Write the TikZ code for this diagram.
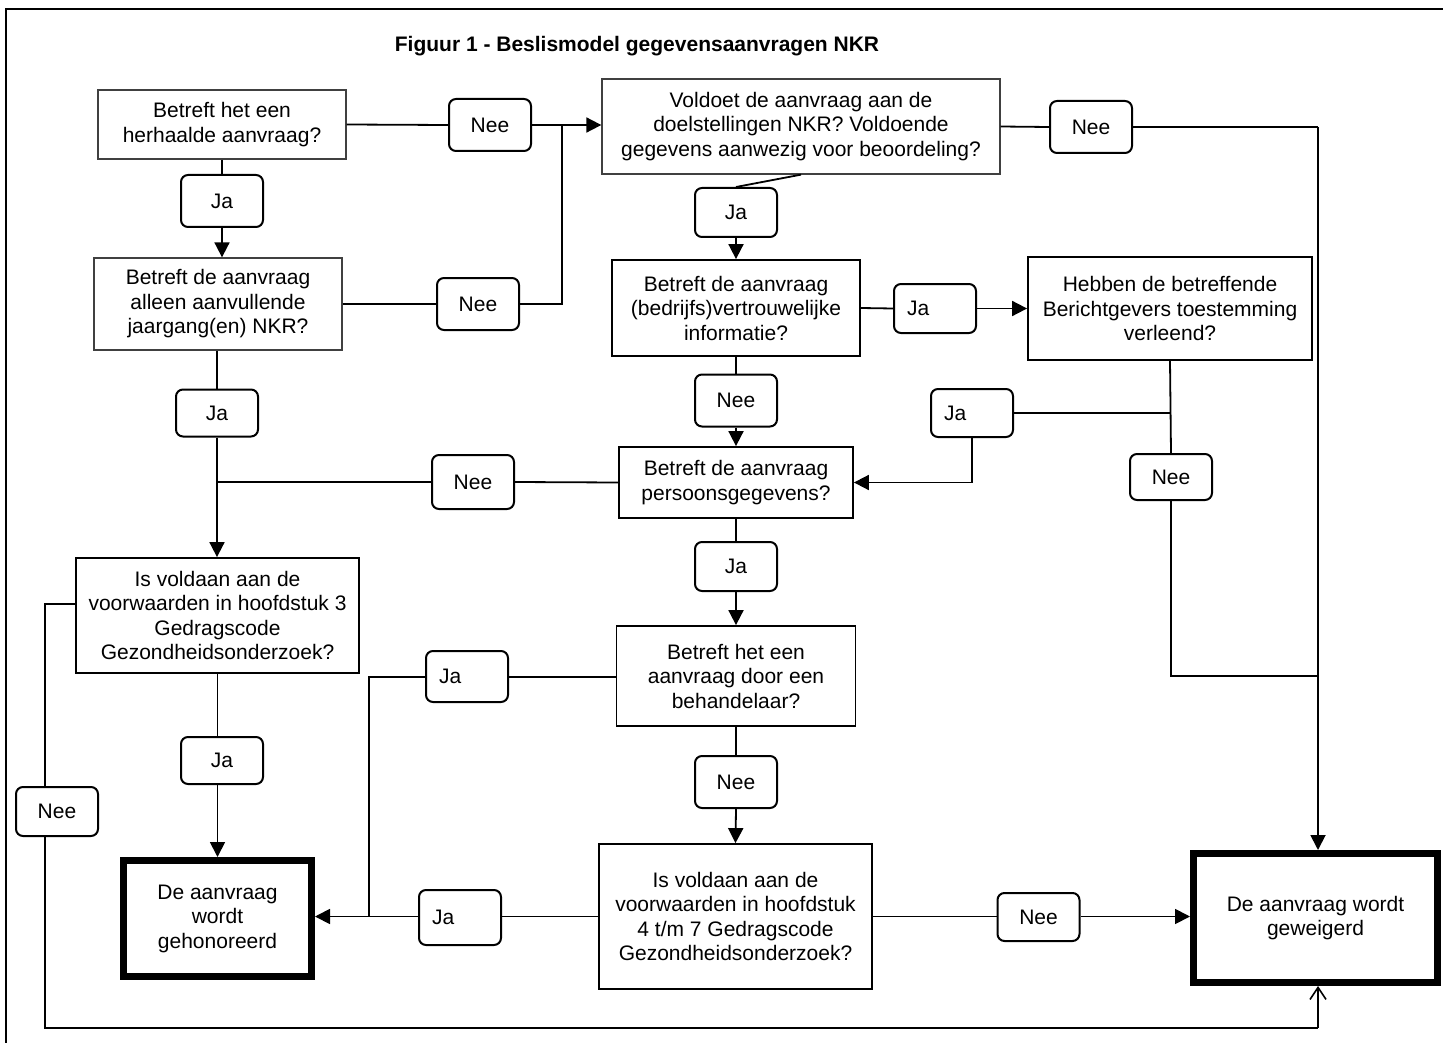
\documentclass[tikz,border=0pt]{standalone}
\usepackage{fontspec}
\setmainfont{Liberation Sans}
\usetikzlibrary{arrows.meta}
\begin{document}
\begin{tikzpicture}[x=1pt,y=-1pt,
  every node/.style={font=\fontsize{21}{24.5}\selectfont},
  qbox/.style={draw, line width=1.8pt, align=center, inner sep=0pt},
  qboxl/.style={draw=black!75, line width=1.3pt, align=center, inner sep=0pt},
  endbox/.style={draw, line width=7pt, align=center, inner sep=0pt},
  lbl/.style={draw, line width=2pt, rounded corners=7pt, minimum width=82pt, minimum height=52pt, inner sep=0pt},
  lblL/.style={lbl, text width=56pt, inner xsep=13pt, align=left},
  conn/.style={line width=1.8pt},
  arr/.style={conn, -{Triangle[length=15pt,width=15pt]}},
  oarr/.style={conn, -{Straight Barb[length=12pt,width=16pt,line width=1.6pt]}}
]
\useasboundingbox (0,0) rectangle (1443,1043);
\draw[line width=2.5pt] (6,1050) -- (6,9) -- (1450,9);

\node[font=\fontsize{21}{24.5}\selectfont\bfseries] (title) at (637,46) {Figuur 1 - Beslismodel gegevensaanvragen NKR};

% main boxes
\node[qboxl, minimum width=248pt, minimum height=69pt] (b1) at (222,124.5) {Betreft het een\\herhaalde aanvraag?};
\node[qboxl, minimum width=248pt, minimum height=92pt] (b2) at (218,304) {Betreft de aanvraag\\alleen aanvullende\\jaargang(en) NKR?};
\node[qboxl, minimum width=398pt, minimum height=95pt] (b3) at (801,126.5) {Voldoet de aanvraag aan de\\doelstellingen NKR? Voldoende\\gegevens aanwezig voor beoordeling?};
\node[qbox, minimum width=248pt, minimum height=96pt] (b4) at (736,308) {Betreft de aanvraag\\(bedrijfs)vertrouwelijke\\informatie?};
\node[qbox, minimum width=284pt, minimum height=103pt] (b5) at (1170,308.5) {Hebben de betreffende\\Berichtgevers toestemming\\verleend?};
\node[qbox, minimum width=234pt, minimum height=71pt] (b6) at (736,482.5) {Betreft de aanvraag\\persoonsgegevens?};
\node[qbox, minimum width=283pt, minimum height=115pt] (b7) at (217.5,615.5) {Is voldaan aan de\\voorwaarden in hoofdstuk 3\\Gedragscode\\Gezondheidsonderzoek?};
\node[qbox, minimum width=239pt, minimum height=100pt] (b8) at (736,676) {Betreft het een\\aanvraag door een\\behandelaar?};
\node[qbox, minimum width=273pt, minimum height=145pt] (b9) at (735.5,916.5) {Is voldaan aan de\\voorwaarden in hoofdstuk\\4 t/m 7 Gedragscode\\Gezondheidsonderzoek?};
\node[endbox, minimum width=188pt, minimum height=116pt] (b10) at (217.5,918.5) {De aanvraag\\wordt\\gehonoreerd};
\node[endbox, minimum width=244pt, minimum height=129pt] (b11) at (1315.5,918) {De aanvraag wordt\\geweigerd};

% labels
\node[lbl] (nee1) at (490,125) {Nee};
\node[lbl] (ja1) at (222,201) {Ja};
\node[lbl] (nee2) at (478,304) {Nee};
\node[lbl] (nee3) at (1091,127) {Nee};
\node[lbl, minimum height=49pt] (ja2) at (736,212.5) {Ja};
\node[lblL, minimum height=49pt] (ja3) at (935,308.5) {Ja};
\node[lbl] (nee4) at (736,400.5) {Nee};
\node[lblL, minimum height=48pt] (ja4) at (972,413) {Ja};
\node[lbl, minimum height=46pt] (nee5) at (1171,477) {Nee};
\node[lbl, minimum height=47pt] (ja5) at (217,413) {Ja};
\node[lbl, minimum height=54pt] (nee6) at (473,482) {Nee};
\node[lbl, minimum height=49pt] (ja6) at (736,566.5) {Ja};
\node[lblL, minimum height=51pt] (ja7) at (467,676.5) {Ja};
\node[lbl, minimum height=47pt] (ja8) at (222,760.5) {Ja};
\node[lbl, minimum height=49pt] (nee7) at (57,811.5) {Nee};
\node[lbl] (nee8) at (736,782) {Nee};
\node[lblL, minimum height=55pt] (ja9) at (460,917.5) {Ja};
\node[lbl, minimum height=48pt] (nee9) at (1038.5,917) {Nee};

% junction coordinates
\coordinate (j1) at (562,125);
\coordinate (r1) at (1318,127);
\coordinate (jr) at (1318,676);
\coordinate (j6) at (217,482);
\coordinate (j7) at (369,677);
\coordinate (j9) at (369,917);
\coordinate (l1) at (45,604);
\coordinate (l2) at (45,1028);
\coordinate (l3) at (1318,1028);

% connectors
\draw[conn] (b1.east) -- (nee1.west);
\draw[arr] (nee1.east) -- (b3.west |- nee1.east);
\draw[conn] (b2.east) -- (nee2.west);
\draw[conn] (nee2.east) -| (j1);
\draw[conn] (b1.south) -- (ja1.north);
\draw[arr] (ja1.south) -- (ja1.south |- b2.north);
\draw[conn] (b3.east) -- (nee3.west);
\draw[conn] (nee3.east) -- (r1);
\draw[arr] (r1) -- (r1 |- b11.north);
\draw[conn] (b3.south) -- (ja2.north);
\draw[arr] (ja2.south) -- (b4.north);
\draw[conn] (b4.east) -- (ja3.west);
\draw[arr] (ja3.east) -- (b5.west |- ja3.east);
\draw[conn] (b4.south) -- (nee4.north);
\draw[arr] (nee4.south) -- (b6.north);
\draw[conn] (b5.south) -- (nee5.north);
\draw[conn] (ja4.east) -- (ja4.east -| b5.south);
\draw[arr] (ja4.south) |- (b6.east);
\draw[conn] (nee5.south) |- (jr);
\draw[conn] (b2.south -| ja5.north) -- (ja5.north);
\draw[conn] (b6.west) -- (nee6.east);
\draw[conn] (nee6.west) -- (j6);
\draw[arr] (ja5.south) -- (ja5.south |- b7.north);
\draw[conn] (b6.south) -- (ja6.north);
\draw[arr] (ja6.south) -- (b8.north);
\draw[conn] (b8.west |- j7) -- (ja7.east |- j7);
\draw[conn] (ja7.west |- j7) -- (j7) -- (j9);
\draw[conn] (b7.south) -- (b7.south |- ja8.north);
\draw[arr] (b7.south |- ja8.south) -- (b10.north);
\draw[conn] (b7.west |- l1) -- (l1) -- (l1 |- nee7.north);
\draw[conn] (l1 |- nee7.south) -- (l2) -- (l3);
\draw[oarr] (l3) -- (l3 |- b11.south);
\draw[conn] (b8.south) -- (nee8.north);
\draw[arr] (nee8.south) -- (b9.north);
\draw[conn] (b9.west) -- (ja9.east |- b9.west);
\draw[arr] (ja9.west |- b9.west) -- (b10.east |- b9.west);
\draw[conn] (b9.east) -- (nee9.west |- b9.east);
\draw[arr] (nee9.east |- b9.east) -- (b11.west |- b9.east);
\end{tikzpicture}
\end{document}
